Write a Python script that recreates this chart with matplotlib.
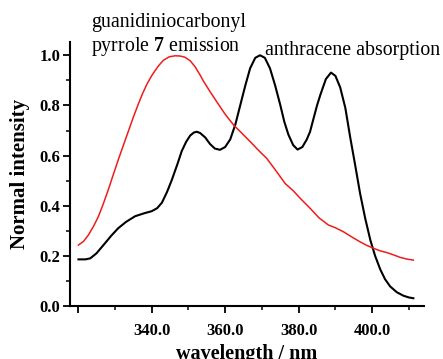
import matplotlib
matplotlib.use("Agg")
import matplotlib.pyplot as plt
from matplotlib.ticker import MultipleLocator, FuncFormatter

plt.rcParams['font.family'] = ['Liberation Serif', 'DejaVu Serif']
plt.rcParams['mathtext.fontset'] = 'custom'
plt.rcParams['mathtext.rm'] = 'Liberation Serif'
plt.rcParams['mathtext.bf'] = 'Liberation Serif:bold'

# anthracene absorption (black)
abs_wl = [320.1, 322.0, 323.3, 325.0, 327.3, 329.0, 330.9, 333.0, 335.5, 338.0, 340.0, 341.5,
          342.8, 344.2, 345.5, 347.0, 348.2, 349.4, 350.5, 351.5, 352.3, 353.2, 354.6, 355.9,
          357.2, 358.6, 360.0, 361.4, 362.8, 364.1, 365.5, 366.8, 368.2, 369.5, 370.8, 372.2,
          373.6, 375.0, 376.1, 377.2, 378.5, 379.7, 381.0, 382.2, 383.1, 384.0, 385.0, 385.9,
          387.4, 388.8, 390.0, 391.3, 392.7, 394.0, 395.4, 396.7, 398.1, 399.5, 400.8, 402.2,
          403.5, 404.9, 406.7, 408.5, 410.0, 411.2]
abs_val = [0.186, 0.186, 0.190, 0.210, 0.250, 0.280, 0.310, 0.335, 0.358, 0.370, 0.378, 0.390,
           0.412, 0.455, 0.503, 0.565, 0.618, 0.655, 0.680, 0.692, 0.695, 0.690, 0.672, 0.646,
           0.628, 0.623, 0.634, 0.665, 0.725, 0.800, 0.880, 0.948, 0.990, 1.000, 0.990, 0.948,
           0.880, 0.802, 0.735, 0.684, 0.642, 0.624, 0.634, 0.664, 0.695, 0.745, 0.800, 0.842,
           0.905, 0.931, 0.918, 0.872, 0.790, 0.675, 0.560, 0.450, 0.350, 0.263, 0.200, 0.146,
           0.107, 0.078, 0.055, 0.041, 0.034, 0.031]

# guanidiniocarbonyl pyrrole 7 emission (red)
em_wl = [320.1, 321.5, 322.8, 324.2, 325.5, 326.8, 328.2, 329.6, 330.9, 332.3, 333.7, 335.0,
         336.4, 337.5, 338.7, 340.0, 341.0, 342.0, 343.2, 344.8, 346.4, 347.8, 349.1, 350.5,
         351.8, 353.2, 354.1, 355.9, 357.7, 360.0, 362.3, 364.5, 366.8, 369.0, 371.3, 373.8,
         376.3, 378.5, 380.4, 383.1, 385.5, 388.1, 390.0, 392.2, 394.5, 396.7, 398.5, 400.4,
         402.2, 404.0, 405.8, 407.6, 409.5, 411.2]
em_val = [0.243, 0.258, 0.283, 0.318, 0.356, 0.405, 0.463, 0.525, 0.582, 0.640, 0.698, 0.752,
          0.806, 0.846, 0.884, 0.918, 0.940, 0.960, 0.980, 0.994, 0.998, 0.997, 0.992, 0.978,
          0.955, 0.921, 0.897, 0.855, 0.815, 0.765, 0.722, 0.690, 0.656, 0.622, 0.589, 0.540,
          0.489, 0.460, 0.430, 0.390, 0.352, 0.323, 0.312, 0.296, 0.275, 0.256, 0.242, 0.230,
          0.220, 0.213, 0.204, 0.194, 0.187, 0.183]

x_ticks = [320, 340, 360, 380, 400]
y_ticks = [0.0, 0.2, 0.4, 0.6, 0.8, 1.0]

W, H = 443, 359
fig = plt.figure(figsize=(W / 100, H / 100), dpi=100)
ax = fig.add_axes([70 / W, 1 - 306 / H, (424 - 70) / W, (306 - 42) / H])

ax.plot(abs_wl, abs_val, color='black', lw=1.5)
ax.plot(em_wl, em_val, color='#ee1c1c', lw=1.1)

ax.set_xlim(317.8, 414.1)
ax.set_ylim(0.0, 1.053)

for s in ['top', 'right']:
    ax.spines[s].set_visible(False)
for s in ['left', 'bottom']:
    ax.spines[s].set_linewidth(1.5)

ax.set_xticks(x_ticks)
ax.xaxis.set_minor_locator(MultipleLocator(10))
ax.set_yticks(y_ticks)
ax.yaxis.set_minor_locator(MultipleLocator(0.1))
ax.xaxis.set_major_formatter(FuncFormatter(lambda v, p: '' if abs(v - 320) < 1e-6 else f'{v:.1f}'))
ax.yaxis.set_major_formatter(FuncFormatter(lambda v, p: f'{v:.1f}'))
ax.tick_params(which='major', direction='out', length=5, width=1.3, labelsize=12)
ax.tick_params(which='minor', direction='out', length=3, width=1.1)
for lab in ax.get_xticklabels() + ax.get_yticklabels():
    lab.set_fontweight('bold')
ax.tick_params(axis='x', pad=7)
ax.tick_params(axis='y', pad=2)

ax.set_xlabel('wavelength / nm', fontsize=14.5, fontweight='bold', labelpad=4)
ax.set_ylabel('Normal intensity', fontsize=15, fontweight='bold', labelpad=7)

fig.text(91 / W, 1 - 22 / H, 'guanidiniocarbonyl', fontsize=14.3, va='center', ha='left')
fig.text(91 / W, 1 - 47 / H, r'pyrrole $\mathbf{7}$ emission', fontsize=14.3, va='center', ha='left')
fig.text(265 / W, 1 - 50 / H, 'anthracene absorption', fontsize=14.3, va='center', ha='left')

fig.savefig('out.png', dpi=100)
